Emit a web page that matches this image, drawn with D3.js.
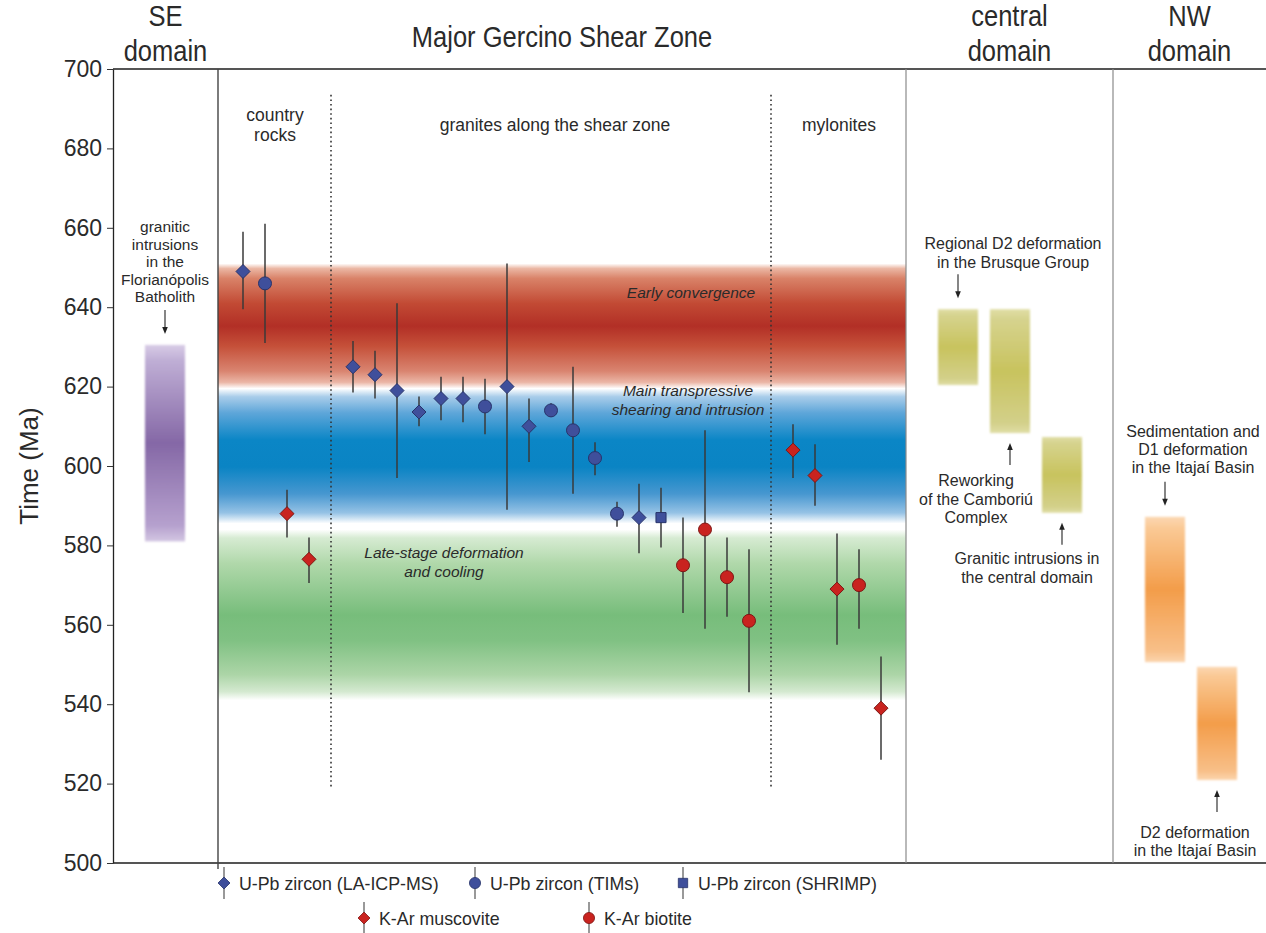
<!DOCTYPE html>
<html>
<head>
<meta charset="utf-8">
<script src="https://cdn.jsdelivr.net/npm/d3@7"></script>
<style>
  body { margin: 0; background: #fff; }
  svg { display: block; }
  text { font-family: "Liberation Sans", Arial, sans-serif; fill: #2a2a2a; }
  .hdr { font-family: "Liberation Sans Narrow", "Arial Narrow", "Liberation Sans", sans-serif; font-size: 30px; }
</style>
</head>
<body>
<svg id="chart" width="1266" height="933"></svg>
<script>
// ---- Age axis ----
const yTicks = [500, 520, 540, 560, 580, 600, 620, 640, 660, 680, 700];

// ---- Geochronology samples in the Major Gercino Shear Zone ----
const groupNames = ["country\nrocks", "granites along the shear zone", "mylonites"];
const groupSizes = [4, 19, 5];
const methodNames = ["U-Pb zircon (LA-ICP-MS)", "U-Pb zircon (TIMs)", "U-Pb zircon (SHRIMP)", "K-Ar muscovite", "K-Ar biotite"];
// method index per sample (0 LA-ICP-MS, 1 TIMs, 2 SHRIMP, 3 muscovite, 4 biotite)
const sampleMethod = [0, 1, 3, 3,
  0, 0, 0, 0, 0, 0, 1, 0, 0, 1, 1, 1, 1, 0, 2, 4, 4, 4, 4,
  3, 3, 3, 4, 3];
const sampleAge = [649, 646, 588, 576.5,
  625, 623, 619, 613.6, 617, 617, 615, 620, 610, 614, 609, 602, 588, 587, 587, 575, 584, 572, 561,
  604, 597.6, 569, 570, 539];
const sampleLow = [639.5, 631, 582, 570.5,
  618.5, 617, 597, 610, 611.5, 611, 608, 589, 601, 612.5, 593, 597.7, 584.7, 578, 579.5, 563, 559, 562, 543,
  597, 590, 555, 559, 526];
const sampleHigh = [659, 661, 594, 582,
  631.5, 629, 641, 617.5, 622.5, 622.5, 622, 651, 617, 615.8, 625, 606, 591, 595.5, 594.5, 587, 609, 582, 579,
  610.5, 605.5, 583, 579, 552];

// ---- Tectonic events (shaded bands) ----
const eventNames = ["Early convergence", "Main transpressive\nshearing and intrusion", "Late-stage deformation\nand cooling"];
const eventTop = [651, 619.5, 584];
const eventBottom = [619.5, 585.5, 541];

// ---- Age ranges in the other domains ----
const rangeLabels = [
  "granitic\nintrusions\nin the\nFlorianópolis\nBatholith",
  "Regional D2 deformation\nin the Brusque Group",
  "Reworking\nof the Camboriú\nComplex",
  "Granitic intrusions in\nthe central domain",
  "Sedimentation and\nD1 deformation\nin the Itajaí Basin",
  "D2 deformation\nin the Itajaí Basin"
];
const rangeTop = [630.5, 639.5, 639.5, 607.3, 587.2, 549.4];
const rangeBottom = [581, 620.4, 608.3, 588.2, 550.6, 520.9];

// ---- Domains across the section ----
const domainNames = ["SE\ndomain", "Major Gercino Shear Zone", "central\ndomain", "NW\ndomain"];

// ================= drawing =================
const svg = d3.select("#chart");
const defs = svg.append("defs");

const y = d3.scaleLinear().domain([500, 700]).range([863, 69]);
const panelEdges = [113, 218, 906, 1113, 1266];

// sample slot: consecutive within a group, one empty slot between groups
const sampleGroup = [];
groupSizes.forEach((n, g) => { for (let i = 0; i < n; i++) sampleGroup.push(g); });
const sampleSlot = sampleGroup.map((g, i) => i + g);
const x = d3.scaleLinear().domain([0, 29]).range([243, 881]);

// ---- event bands ----
const bandStops = [
  [[0, "#ffffff"], [0.04, "#ebb7a4"], [0.12, "#d98268"], [0.32, "#c24a34"], [0.5, "#b22f26"], [0.66, "#c55039"], [0.86, "#d98470"], [0.95, "#ebb6a6"], [1, "#ffffff"]],
  [[0, "#ffffff"], [0.06, "#a9cdea"], [0.18, "#5ea6d9"], [0.38, "#0b86c6"], [0.58, "#0a84c4"], [0.78, "#4797d0"], [0.92, "#95c2e5"], [1, "#ffffff"]],
  [[0, "#ffffff"], [0.05, "#d6ebd2"], [0.2, "#b0d8aa"], [0.5, "#77bd7b"], [0.65, "#80c183"], [0.85, "#acd5a7"], [0.95, "#d4e9d0"], [1, "#ffffff"]]
];
bandStops.forEach((stops, i) => {
  const g = defs.append("linearGradient").attr("id", "band" + i)
    .attr("x1", 0).attr("y1", 0).attr("x2", 0).attr("y2", 1);
  stops.forEach(s => g.append("stop").attr("offset", s[0]).attr("stop-color", s[1]));
});
svg.append("g").selectAll("rect").data(eventNames).join("rect")
  .attr("x", panelEdges[1]).attr("width", panelEdges[2] - panelEdges[1])
  .attr("y", (d, i) => y(eventTop[i]))
  .attr("height", (d, i) => y(eventBottom[i]) - y(eventTop[i]))
  .attr("fill", (d, i) => `url(#band${i})`);

// event labels
const eventLabelPos = [[691, 298], [688, 396], [444, 558]];
eventNames.forEach((name, i) => {
  const t = svg.append("text").attr("text-anchor", "middle")
    .attr("font-size", 15.5).attr("font-style", "italic").attr("fill", "#333");
  name.split("\n").forEach((line, k) => {
    t.append("tspan").attr("x", eventLabelPos[i][0]).attr("y", eventLabelPos[i][1] + k * 19).text(line);
  });
});

// ---- range bars (SE, central and NW domains) ----
const rangePalette = [
  [[0, "#d8cce6"], [0.08, "#bfaed5"], [0.5, "#8568a6"], [0.92, "#b6a1ce"], [1, "#d3c6e2"]],
  [[0, "#e0dea6"], [0.08, "#d6d38e"], [0.5, "#c8c35e"], [0.92, "#d3d08a"], [1, "#e0dea6"]],
  [[0, "#fbd7b2"], [0.08, "#fac995"], [0.5, "#f39d4a"], [0.92, "#f8bf88"], [1, "#fbd5ae"]]
];
const rangePaletteOf = [0, 1, 1, 1, 2, 2];
const rangeCx = [165, 958, 1010, 1062, 1165, 1217];
rangePalette.forEach((stops, i) => {
  const g = defs.append("linearGradient").attr("id", "range" + i)
    .attr("x1", 0).attr("y1", 0).attr("x2", 0).attr("y2", 1);
  stops.forEach(s => g.append("stop").attr("offset", s[0]).attr("stop-color", s[1]));
});
defs.append("filter").attr("id", "soft").attr("x", "-20%").attr("y", "-10%").attr("width", "140%").attr("height", "120%")
  .append("feGaussianBlur").attr("stdDeviation", 1.3);
svg.append("g").selectAll("rect").data(rangeLabels).join("rect")
  .attr("x", (d, i) => rangeCx[i] - 20).attr("width", 40)
  .attr("y", (d, i) => y(rangeTop[i]))
  .attr("height", (d, i) => y(rangeBottom[i]) - y(rangeTop[i]))
  .attr("fill", (d, i) => `url(#range${rangePaletteOf[i]})`)
  .attr("filter", "url(#soft)");

// range annotations: label anchor, arrow direction (down = arrow points onto the bar top)
const rangeNote = [
  { x: 165, y: 232, dy: 17.5, size: 15.5, down: true },
  { x: 1013, y: 249, dy: 19, size: 16, down: true },
  { x: 976, y: 486, dy: 18.5, size: 16, down: false },
  { x: 1027, y: 564, dy: 18.5, size: 16, down: false },
  { x: 1193, y: 437, dy: 18, size: 16, down: true },
  { x: 1195, y: 838, dy: 18, size: 16, down: false }
];
function arrow(ax, tip, tail) {
  const dir = tip > tail ? 1 : -1;
  svg.append("line").attr("x1", ax).attr("x2", ax).attr("y1", tail).attr("y2", tip - dir * 5)
    .attr("stroke", "#222").attr("stroke-width", 1.1);
  svg.append("path").attr("d", `M${ax - 2.8},${tip - dir * 7}L${ax + 2.8},${tip - dir * 7}L${ax},${tip}Z`).attr("fill", "#222");
}
rangeLabels.forEach((lbl, i) => {
  const n = rangeNote[i];
  const t = svg.append("text").attr("text-anchor", "middle").attr("font-size", n.size).attr("fill", "#2a2a2a");
  lbl.split("\n").forEach((line, k) => {
    t.append("tspan").attr("x", n.x).attr("y", n.y + k * n.dy).text(line);
  });
  if (n.down) {
    const tip = y(rangeTop[i]) - 11;
    arrow(rangeCx[i], tip, tip - 24);
  } else {
    const tip = y(rangeBottom[i]) + 10;
    arrow(rangeCx[i], tip, tip + 22);
  }
});

// ---- dotted group separators ----
const separatorSlots = groupSizes.slice(0, -1).map((n, g) => d3.sum(groupSizes.slice(0, g + 1)) + g);
svg.append("g").selectAll("line").data(separatorSlots).join("line")
  .attr("x1", d => x(d)).attr("x2", d => x(d))
  .attr("y1", y(693.5)).attr("y2", y(519))
  .attr("stroke", "#333").attr("stroke-width", 1.6).attr("stroke-dasharray", "1.6,3");

// group titles
const groupCenter = [275, 555, 839];
const groupTitleY = [121, 131, 131];
groupNames.forEach((name, g) => {
  const t = svg.append("text").attr("text-anchor", "middle").attr("font-size", 17.5);
  name.split("\n").forEach((line, k) => {
    t.append("tspan").attr("x", groupCenter[g]).attr("y", groupTitleY[g] + k * 20).text(line);
  });
});

// ---- markers ----
const methodFill = ["#3f4f9b", "#3f4f9b", "#3f4f9b", "#c9231f", "#c9231f"];
const methodStroke = ["#27336a", "#27336a", "#27336a", "#7d1714", "#7d1714"];
function markerPath(method, s) {
  if (method === 0 || method === 3) return `M0,${-s}L${s},0L0,${s}L${-s},0Z`;
  if (method === 2) return `M${-s * 0.72},${-s * 0.72}H${s * 0.72}V${s * 0.72}H${-s * 0.72}Z`;
  return d3.symbol(d3.symbolCircle, Math.PI * s * s * 0.86)();
}
const pts = svg.append("g");
sampleAge.forEach((age, i) => {
  const cx = x(sampleSlot[i]);
  pts.append("line").attr("x1", cx).attr("x2", cx)
    .attr("y1", y(sampleHigh[i])).attr("y2", y(sampleLow[i]))
    .attr("stroke", "#3a3a3a").attr("stroke-width", 1.5);
});
sampleAge.forEach((age, i) => {
  const m = sampleMethod[i];
  pts.append("path").attr("d", markerPath(m, 7))
    .attr("transform", `translate(${x(sampleSlot[i])},${y(age)})`)
    .attr("fill", methodFill[m]).attr("stroke", methodStroke[m]).attr("stroke-width", 1);
});

// ---- frame and domain dividers ----
svg.append("line").attr("x1", panelEdges[0]).attr("x2", 1266).attr("y1", y(700)).attr("y2", y(700))
  .attr("stroke", "#555").attr("stroke-width", 2);
svg.append("line").attr("x1", panelEdges[0]).attr("x2", 1266).attr("y1", y(500)).attr("y2", y(500))
  .attr("stroke", "#555").attr("stroke-width", 2);
svg.append("line").attr("x1", panelEdges[1]).attr("x2", panelEdges[1]).attr("y1", y(700)).attr("y2", y(500) + 6)
  .attr("stroke", "#444").attr("stroke-width", 1.4);
[panelEdges[2], panelEdges[3]].forEach(px => {
  svg.append("line").attr("x1", px).attr("x2", px).attr("y1", y(700)).attr("y2", y(500))
    .attr("stroke", "#8a8a8a").attr("stroke-width", 1.2);
});

// domain headers, set in a condensed face
const headerY = [[26, 61], [47], [26, 61], [26, 61]];
domainNames.forEach((name, i) => {
  const cx = (panelEdges[i] + panelEdges[i + 1]) / 2;
  const t = svg.append("text").attr("class", "hdr").attr("text-anchor", "middle")
    .attr("transform", `translate(${cx},0) scale(0.85,1)`);
  name.split("\n").forEach((line, k) => {
    t.append("tspan").attr("x", 0).attr("y", headerY[i][k]).text(line);
  });
});

// ---- age axis ----
const axis = svg.append("g").attr("transform", `translate(${panelEdges[0]},0)`)
  .call(d3.axisLeft(y).tickValues(yTicks).tickSize(6).tickSizeOuter(0).tickPadding(5));
axis.selectAll("text").attr("font-size", 23).attr("fill", "#333").style("font-family", '"Liberation Sans", Arial, sans-serif');
axis.selectAll("line").attr("stroke", "#333");
axis.select(".domain").attr("stroke", "#222").attr("stroke-width", 1.3);
svg.append("text").attr("transform", "translate(38,466) rotate(-90)").attr("text-anchor", "middle")
  .attr("font-size", 26).attr("fill", "#333").text("Time (Ma)");

// ---- legend ----
const legendPos = [[224, 883], [475, 883], [683, 883], [364, 918], [589, 918]];
const lg = svg.append("g");
methodNames.forEach((name, m) => {
  const [lx, ly] = legendPos[m];
  lg.append("line").attr("x1", lx).attr("x2", lx).attr("y1", ly - 16).attr("y2", ly + 16)
    .attr("stroke", "#555").attr("stroke-width", 1.2);
  lg.append("path").attr("d", markerPath(m, m === 2 ? 6.5 : 6))
    .attr("transform", `translate(${lx},${ly})`)
    .attr("fill", methodFill[m]).attr("stroke", methodStroke[m]).attr("stroke-width", 0.8);
  lg.append("text").attr("x", lx + 15).attr("y", ly + 6.5).attr("font-size", 17.8).attr("fill", "#2a2a2a").text(name);
});
</script>
</body>
</html>
